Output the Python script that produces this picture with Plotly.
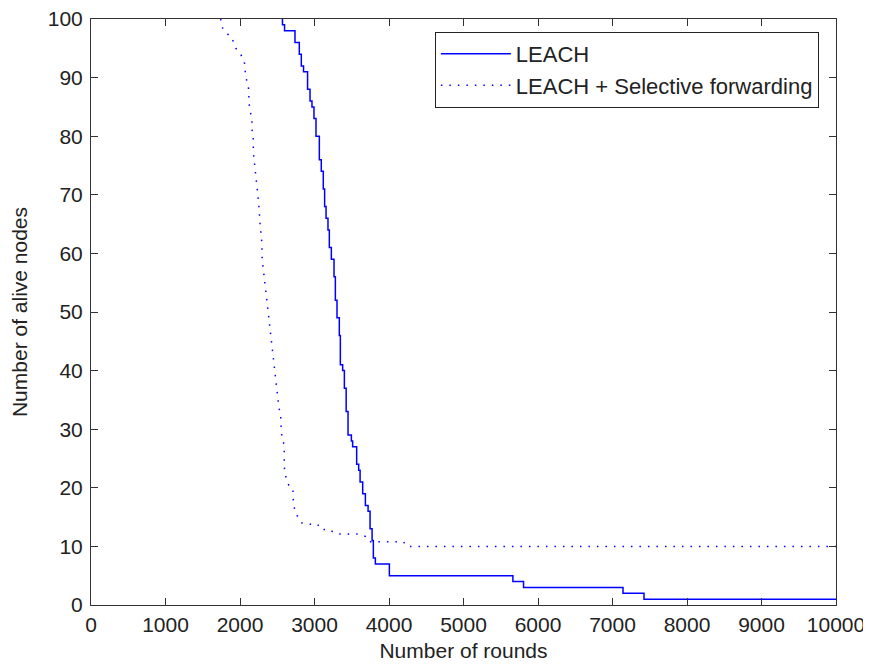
import plotly.graph_objects as go

# LEACH (solid): staircase of alive nodes vs. rounds
leach_rounds = [2560, 2570, 2598, 2738, 2796, 2823, 2853, 2907, 2940, 2966,
                2993, 3020, 3065, 3091, 3118, 3136, 3155, 3181, 3199, 3226,
                3262, 3280, 3302, 3333, 3347, 3378, 3401, 3425, 3450, 3495,
                3512, 3566, 3593, 3612, 3647, 3683, 3719, 3746, 3773, 3790,
                3817, 4005, 5663, 5806, 7141, 7423, 10000]
leach_alive = [100, 99, 98, 96, 94, 92, 91, 88, 86, 85,
               83, 80, 76, 74, 71, 68, 66, 64, 61, 59,
               56, 52, 49, 46, 41, 40, 37, 33, 29, 28,
               27, 24, 23, 21, 19, 17, 16, 13, 11, 8,
               7, 5, 4, 3, 2, 1, 1]

# LEACH + Selective forwarding (dotted)
sf_rounds = [1740, 1765, 1810, 1885, 1945, 2003, 2047, 2070, 2070, 2093,
             2114, 2124, 2137, 2160, 2160, 2177, 2181, 2204, 2227, 2249,
             2272, 2294, 2298, 2321, 2343, 2370, 2392, 2415, 2437, 2460,
             2482, 2504, 2522, 2545, 2545, 2554, 2567, 2594, 2594, 2598,
             2621, 2652, 2711, 2711, 2738, 2782, 2832, 2921, 3042, 3082,
             3199, 3276, 3356, 3593, 3683, 3728, 4194, 4238, 10000]
sf_alive = [100, 98.5, 97.6, 97, 95, 94.1, 93.1, 92, 90.6, 89.3,
            88.2, 85.4, 84, 82.6, 81.2, 79.9, 77, 74.3, 71.5, 68.8,
            64.7, 61.8, 59, 56.3, 53.6, 50.7, 48.2, 45.3, 42.8, 39.9,
            37.4, 35, 33.7, 32.5, 31.1, 29.6, 28.4, 27.3, 24.3, 22.9,
            21.6, 20.5, 19.9, 18.4, 15.8, 14.9, 14.0, 13.8, 13.8, 12.9,
            12.9, 12.2, 12.1, 12.1, 11.7, 10.8, 10.8, 10.0, 10]

x_ticks = [0, 1000, 2000, 3000, 4000, 5000, 6000, 7000, 8000, 9000, 10000]
y_ticks = [0, 10, 20, 30, 40, 50, 60, 70, 80, 90, 100]

fig = go.Figure()
fig.add_trace(go.Scatter(x=leach_rounds, y=leach_alive, mode="lines",
                         line=dict(color="#0000FF", width=1.5, shape="hv"),
                         name="LEACH"))
fig.add_trace(go.Scatter(x=sf_rounds, y=sf_alive, mode="lines",
                         line=dict(color="#0000FF", width=1.5, dash="1.5px,7px"),
                         name="LEACH + Selective forwarding"))

axis_common = dict(showline=True, linecolor="#333333", linewidth=1, mirror="ticks",
                   ticks="inside", ticklen=7, tickcolor="#333333", tickwidth=1,
                   showgrid=False, zeroline=False, automargin=False,
                   ticklabeloverflow="allow",
                   tickfont=dict(family="Arial, Liberation Sans, sans-serif", size=21, color="#222222"))

fig.update_xaxes(range=[0, 10000], tickvals=x_ticks, ticktext=[str(v) for v in x_ticks],
                 ticklabelstandoff=1,
                 title=dict(text="Number of rounds", standoff=8,
                            font=dict(size=21, color="#222222")),
                 **axis_common)
fig.update_yaxes(range=[0, 100], tickvals=y_ticks, ticktext=[str(v) for v in y_ticks],
                 ticklabelstandoff=3,
                 title=dict(text="Number of alive nodes", standoff=26,
                            font=dict(size=21, color="#222222")),
                 **axis_common)

fig.update_layout(
    width=871, height=669,
    margin=dict(l=83, r=43, t=11, b=72),
    plot_bgcolor="white", paper_bgcolor="white",
    font=dict(family="Arial, Liberation Sans, sans-serif", size=21, color="#222222"),
    showlegend=True,
    legend=dict(x=0.977, y=0.978, xanchor="right", yanchor="top",
                bgcolor="white", bordercolor="#222222", borderwidth=1,
                font=dict(size=22), itemwidth=70, tracegroupgap=0),
)

fig.write_html("out.html")
